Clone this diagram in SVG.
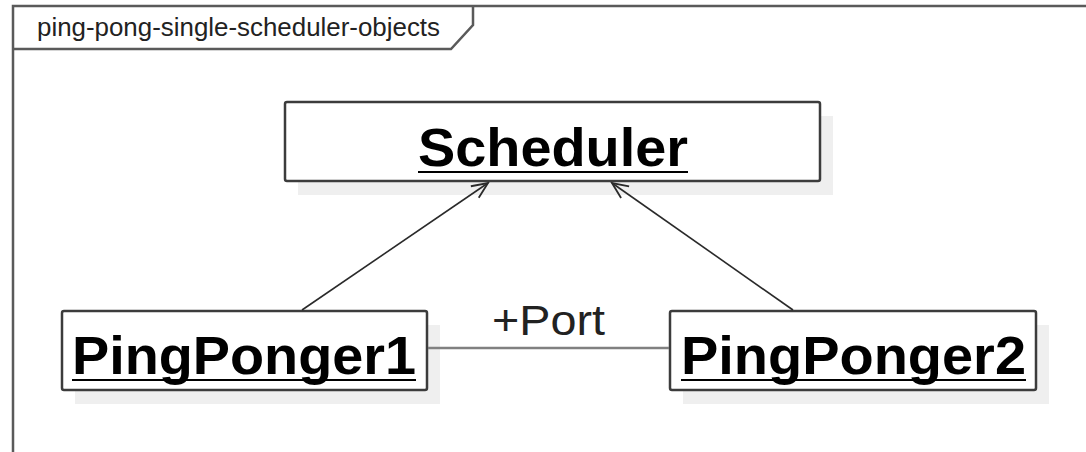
<svg xmlns="http://www.w3.org/2000/svg" width="1086" height="452" viewBox="0 0 1086 452">
  <style>
    .frame { fill: none; stroke: #5a5a5a; stroke-width: 2.5; }
    .shadow { fill: #efefef; stroke: none; }
    .box { fill: #ffffff; stroke: #3c3c3c; stroke-width: 2.5; }
    .name { font-family: "Liberation Sans", Arial, sans-serif; font-weight: bold; font-size: 54px; fill: #000000; }
    .uline { stroke: #000000; stroke-width: 2.2; }
    .edge { fill: none; stroke: #2a2a2a; stroke-width: 1.6; }
    .link { fill: none; stroke: #808080; stroke-width: 2.5; }
    .label { font-family: "Liberation Sans", Arial, sans-serif; fill: #222222; }
  </style>
  <defs>
    <marker id="open-arrow" viewBox="0 0 20 20" refX="18" refY="10" markerWidth="20" markerHeight="20" markerUnits="userSpaceOnUse" orient="auto">
      <path d="M 2 3 L 18 10 L 2 17" fill="none" stroke="#2a2a2a" stroke-width="1.8"/>
    </marker>
  </defs>
  <rect width="1086" height="452" fill="#ffffff"/>

  <!-- diagram frame with name tab -->
  <g id="frame">
    <path class="frame" d="M 13 452 L 13 6 L 1086 6"/>
    <path class="frame" d="M 13 49 L 451 49 L 473 25 L 473 6"/>
    <text class="label" x="37" y="36" font-size="26" textLength="403" lengthAdjust="spacingAndGlyphs">ping-pong-single-scheduler-objects</text>
  </g>

  <!-- object: Scheduler -->
  <g id="scheduler">
    <rect class="shadow" x="298" y="116" width="535" height="79"/>
    <rect class="box" x="285" y="102" width="535" height="79" rx="2"/>
    <text class="name" x="418" y="166" textLength="270" lengthAdjust="spacingAndGlyphs">Scheduler</text>
    <line class="uline" x1="418" y1="172" x2="688" y2="172"/>
  </g>

  <!-- object: PingPonger1 -->
  <g id="pingponger1">
    <rect class="shadow" x="75" y="325" width="365" height="79"/>
    <rect class="box" x="62" y="311" width="365" height="79" rx="2"/>
    <text class="name" x="72" y="374" textLength="344" lengthAdjust="spacingAndGlyphs">PingPonger1</text>
    <line class="uline" x1="72" y1="380" x2="416" y2="380"/>
  </g>

  <!-- object: PingPonger2 -->
  <g id="pingponger2">
    <rect class="shadow" x="683" y="325" width="366" height="79"/>
    <rect class="box" x="670" y="311" width="366" height="79" rx="2"/>
    <text class="name" x="681" y="374" textLength="345" lengthAdjust="spacingAndGlyphs">PingPonger2</text>
    <line class="uline" x1="681" y1="380" x2="1026" y2="380"/>
  </g>

  <!-- connectors, drawn above the node shadows -->
  <g id="connectors">
    <line class="edge" x1="302" y1="310" x2="488" y2="183" marker-end="url(#open-arrow)"/>
    <line class="edge" x1="793" y1="310" x2="612" y2="183" marker-end="url(#open-arrow)"/>
    <line class="link" x1="428" y1="348" x2="669" y2="348"/>
    <text class="label" x="492" y="335" font-size="43" textLength="113" lengthAdjust="spacingAndGlyphs">+Port</text>
  </g>
</svg>
